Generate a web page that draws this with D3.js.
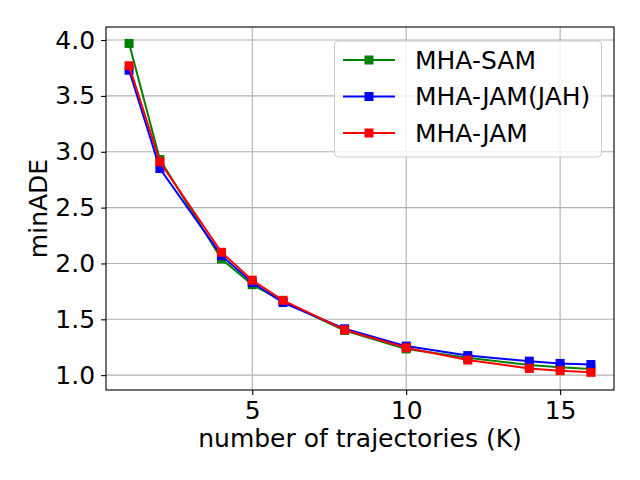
<!DOCTYPE html>
<html><head><meta charset="utf-8">
<script src="https://cdn.jsdelivr.net/npm/d3@7"></script>
<style>body{margin:0;background:#fff}svg{display:block}text{font-family:"DejaVu Sans",sans-serif}</style>
</head><body>
<svg id="c" width="640" height="480"></svg>
<script>
const kValues = [1, 2, 4, 5, 6, 8, 10, 12, 14, 15, 16];
const seriesNames = ["MHA-SAM", "MHA-JAM(JAH)", "MHA-JAM"];
const seriesColors = ["#008000", "#0000ff", "#ff0000"];
const samValues = [3.97, 2.93, 2.04, 1.81, 1.66, 1.40, 1.235, 1.155, 1.09, 1.07, 1.055];
const jahValues = [3.73, 2.85, 2.07, 1.83, 1.65, 1.415, 1.26, 1.175, 1.125, 1.105, 1.095];
const jamValues = [3.77, 2.91, 2.10, 1.85, 1.67, 1.405, 1.245, 1.135, 1.06, 1.04, 1.025];
const xTicks = [5, 10, 15];
const yTicks = [1.0, 1.5, 2.0, 2.5, 3.0, 3.5, 4.0];
const allSeries = [samValues, jahValues, jamValues];

const svg = d3.select("#c");
const L = 106, R = 614, T = 27, B = 390;
const x = d3.scaleLinear().domain([0.25, 16.75]).range([L, R]);
const y = d3.scaleLinear().domain([0.867, 4.117]).range([B, T]);
const FS = 25;

// grid
svg.append("g").selectAll("line").data(xTicks).join("line")
  .attr("x1", d => x(d)).attr("x2", d => x(d)).attr("y1", T).attr("y2", B)
  .attr("stroke", "#b0b0b0").attr("stroke-width", 1.1);
svg.append("g").selectAll("line").data(yTicks).join("line")
  .attr("x1", L).attr("x2", R).attr("y1", d => y(d)).attr("y2", d => y(d))
  .attr("stroke", "#b0b0b0").attr("stroke-width", 1.1);

// axes
const xa = svg.append("g").attr("transform", `translate(0,${B})`)
  .call(d3.axisBottom(x).tickValues(xTicks).tickFormat(d3.format("d")).tickSize(4.9).tickPadding(6));
const ya = svg.append("g").attr("transform", `translate(${L},0)`)
  .call(d3.axisLeft(y).tickValues(yTicks).tickFormat(d3.format(".1f")).tickSize(4.9).tickPadding(6));
[xa, ya].forEach(a => {
  a.select(".domain").remove();
  a.selectAll("text").attr("font-size", FS).attr("fill", "#000").attr("font-family", "DejaVu Sans");
  a.selectAll("line").attr("stroke", "#000").attr("stroke-width", 1.1);
});
xa.selectAll("text").attr("dy", "0.71em");

// series
const line = d3.line().x((d, i) => x(kValues[i])).y(d => y(d));
allSeries.forEach((vals, s) => {
  svg.append("path").datum(vals).attr("d", line).attr("fill", "none")
    .attr("stroke", seriesColors[s]).attr("stroke-width", 2);
  svg.append("g").selectAll("rect").data(vals).join("rect")
    .attr("x", (d, i) => x(kValues[i]) - 4.5).attr("y", d => y(d) - 4.5)
    .attr("width", 9).attr("height", 9).attr("fill", seriesColors[s]);
});

// frame
svg.append("rect").attr("x", L).attr("y", T).attr("width", R - L).attr("height", B - T)
  .attr("fill", "none").attr("stroke", "#000").attr("stroke-width", 1.1);

// labels
svg.append("text").attr("x", (L + R) / 2).attr("y", 447).attr("text-anchor", "middle")
  .attr("font-size", FS).text("number of trajectories (K)");
svg.append("text").attr("transform", `translate(47,${(T + B) / 2}) rotate(-90)`)
  .attr("text-anchor", "middle").attr("font-size", FS).text("minADE");

// legend
const lg = svg.append("g");
lg.append("rect").attr("x", 334.5).attr("y", 41).attr("width", 267).attr("height", 116)
  .attr("rx", 4).attr("fill", "#fff").attr("fill-opacity", 0.8).attr("stroke", "#cccccc");
seriesNames.forEach((n, i) => {
  const yy = 60 + i * 36.5;
  lg.append("line").attr("x1", 343).attr("x2", 395).attr("y1", yy).attr("y2", yy)
    .attr("stroke", seriesColors[i]).attr("stroke-width", 2);
  lg.append("rect").attr("x", 369 - 4.5).attr("y", yy - 4.5).attr("width", 9).attr("height", 9)
    .attr("fill", seriesColors[i]);
  lg.append("text").attr("x", 415).attr("y", yy + 8.5).attr("font-size", FS).text(n);
});
</script>
</body></html>
